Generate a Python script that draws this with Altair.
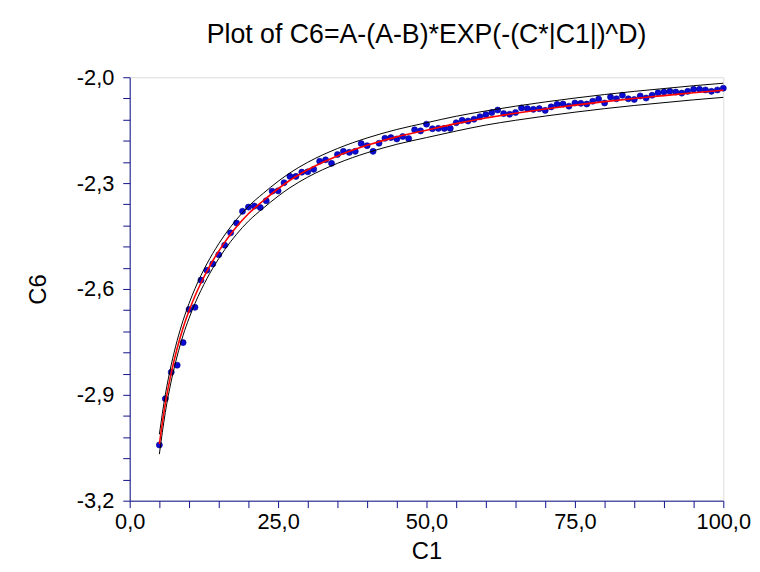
import altair as alt
import pandas as pd

# ---- data ----
c1 = list(range(5, 101))
c6 = [-3.042, -2.911, -2.836, -2.816, -2.752, -2.658, -2.652, -2.575, -2.547, -2.529,
      -2.503, -2.476, -2.441, -2.413, -2.380, -2.368, -2.365, -2.369, -2.350, -2.323,
      -2.322, -2.299, -2.281, -2.281, -2.269, -2.268, -2.261, -2.238, -2.234, -2.244,
      -2.219, -2.210, -2.213, -2.210, -2.188, -2.194, -2.210, -2.187, -2.173, -2.171,
      -2.175, -2.168, -2.174, -2.149, -2.152, -2.133, -2.146, -2.145, -2.145, -2.145,
      -2.129, -2.122, -2.124, -2.119, -2.112, -2.106, -2.100, -2.093, -2.103, -2.105,
      -2.100, -2.087, -2.089, -2.091, -2.089, -2.094, -2.084, -2.077, -2.076, -2.082,
      -2.073, -2.074, -2.076, -2.068, -2.062, -2.073, -2.056, -2.061, -2.051, -2.061,
      -2.063, -2.053, -2.059, -2.051, -2.044, -2.042, -2.040, -2.042, -2.045, -2.040,
      -2.034, -2.034, -2.036, -2.040, -2.036, -2.031]

fit_x = [5, 6, 7, 8, 9, 10, 11, 12, 13, 14, 15, 16, 17, 18, 20, 22.5, 25, 27, 30, 35,
         40, 45, 50, 55, 60, 65, 70, 75, 80, 85, 90, 95, 100]
fit_y = [-3.040, -2.925, -2.838, -2.768, -2.710, -2.662, -2.620, -2.583, -2.550, -2.520,
         -2.493, -2.468, -2.445, -2.424, -2.387, -2.350, -2.316, -2.292, -2.262, -2.223,
         -2.193, -2.169, -2.150, -2.1315, -2.1155, -2.102, -2.090, -2.079, -2.069, -2.060,
         -2.052, -2.044, -2.037]
upper_y = [-3.012, -2.900, -2.815, -2.746, -2.689, -2.641, -2.599, -2.562, -2.529, -2.499,
           -2.472, -2.447, -2.424, -2.403, -2.366, -2.329, -2.295, -2.271, -2.241, -2.202,
           -2.172, -2.148, -2.129, -2.1105, -2.0955, -2.082, -2.070, -2.059, -2.049, -2.040,
           -2.032, -2.024, -2.017]
lower_y = [-3.068, -2.950, -2.861, -2.790, -2.731, -2.683, -2.641, -2.604, -2.571, -2.541,
           -2.514, -2.489, -2.466, -2.445, -2.408, -2.371, -2.337, -2.313, -2.283, -2.244,
           -2.214, -2.190, -2.171, -2.1525, -2.1355, -2.122, -2.110, -2.099, -2.089, -2.080,
           -2.072, -2.064, -2.057]

x_ticks = [0, 5, 10, 15, 20, 25, 30, 35, 40, 45, 50, 55, 60, 65, 70, 75, 80, 85, 90, 95, 100]
y_ticks = [-3.2, -3.14, -3.08, -3.02, -2.96, -2.9, -2.84, -2.78, -2.72, -2.66, -2.6,
           -2.54, -2.48, -2.42, -2.36, -2.3, -2.24, -2.18, -2.12, -2.06, -2.0]

pts = pd.DataFrame({"C1": c1, "C6": c6})
curves = pd.DataFrame({"x": fit_x, "fit": fit_y, "upper": upper_y, "lower": lower_y})

AXIS_COLOR = "#10108a"
FONT = "Liberation Sans"

xscale = alt.Scale(domain=[0, 100], nice=False, zero=False)
yscale = alt.Scale(domain=[-3.2, -2.0], nice=False, zero=False)

xaxis = alt.Axis(
    values=x_ticks,
    labelExpr="datum.value % 25 == 0 ? replace(format(datum.value, '.1f'), '.', ',') : ''",
    title="C1", grid=False, labelFlush=False, labelOverlap=False,
    domainColor=AXIS_COLOR, tickColor=AXIS_COLOR, tickSize=7, tickWidth=1,
    labelFont=FONT, labelFontSize=22, labelColor="black", labelPadding=4,
    titleFont=FONT, titleFontSize=24, titleFontWeight="normal", titleColor="black",
    titlePadding=7,
)
yaxis = alt.Axis(
    values=y_ticks,
    labelExpr=("abs(round(datum.value * 100)) % 30 == 20 ? "
               "'-' + replace(format(abs(datum.value), '.1f'), '.', ',') : ''"),
    title="C6", grid=False, labelFlush=False, labelOverlap=False,
    domainColor=AXIS_COLOR, tickColor=AXIS_COLOR, tickSize=7, tickWidth=1,
    labelFont=FONT, labelFontSize=22, labelColor="black", labelPadding=9,
    titleFont=FONT, titleFontSize=24, titleFontWeight="normal", titleColor="black",
    titlePadding=26,
)

points = alt.Chart(pts).mark_circle(
    size=38, color="#0a0ad4", opacity=1, stroke="#00008a", strokeWidth=0.6
).encode(
    x=alt.X("C1:Q", scale=xscale, axis=xaxis),
    y=alt.Y("C6:Q", scale=yscale, axis=yaxis),
)

base = alt.Chart(curves)
up = base.mark_line(color="black", strokeWidth=1, interpolate="monotone").encode(
    x=alt.X("x:Q", scale=xscale, axis=xaxis), y=alt.Y("upper:Q", scale=yscale, axis=yaxis))
lo = base.mark_line(color="black", strokeWidth=1, interpolate="monotone").encode(
    x=alt.X("x:Q", scale=xscale, axis=xaxis), y=alt.Y("lower:Q", scale=yscale, axis=yaxis))
fit = base.mark_line(color="#ff0000", strokeWidth=1.6, interpolate="monotone").encode(
    x=alt.X("x:Q", scale=xscale, axis=xaxis), y=alt.Y("fit:Q", scale=yscale, axis=yaxis))

chart = alt.layer(points, up, lo, fit).properties(
    width=600,
    height=428,
    autosize=alt.AutoSizeParams(type="none"),
    padding={"left": 123, "top": 67, "right": 29, "bottom": 61},
    title=alt.TitleParams(
        "Plot of C6=A-(A-B)*EXP(-(C*|C1|)^D)",
        font=FONT, fontSize=27, fontWeight="normal", color="black",
        anchor="middle", offset=18,
    ),
).configure_view(stroke=None).configure(background="white")

chart.save("out.html", embed_options={"renderer": "svg", "actions": False})
